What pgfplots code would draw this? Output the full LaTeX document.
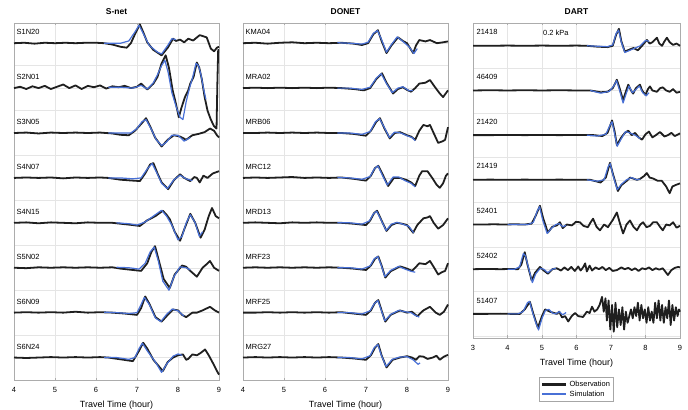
\documentclass[border=0pt]{standalone}
\usepackage{fontspec}
\setmainfont{Liberation Sans}
\usepackage{pgfplots}
\pgfplotsset{compat=1.18}
\definecolor{simblue}{RGB}{72,112,214}
\tikzset{lab/.style={font=\fontsize{7.5}{8}\selectfont, anchor=west, inner sep=0pt}}
\pgfplotsset{
  base/.style={y filter/.expression={y+#1}},
  obs/.style={black!88, line width=1.8bp, line join=round, forget plot},
  sim/.style={simblue, line width=1.2bp, line join=round, forget plot},
  panel/.style={scale only axis, xtick={3,...,9},
    yticklabels={}, grid=major, grid style={gray!20, line width=0.4bp},
    axis line style={gray!65}, tick style={gray!65}, ytick style={draw=none},
    major tick length=2.5bp, tick align=inside,
    tick label style={font=\fontsize{7.5}{9}\selectfont},
    xticklabel style={yshift=-4bp},
    /pgf/number format/assume math mode=true,
    xlabel={Travel Time (hour)},
    xlabel style={font=\fontsize{9}{11}\selectfont, yshift=-1bp},
    title style={font=\bfseries\fontsize{8.5}{10}\selectfont, yshift=-1bp},
    clip=false}
}
\begin{document}
\begin{tikzpicture}
\useasboundingbox (0,0) rectangle (688bp,410bp);
% ---------------- S-net ----------------
\begin{axis}[panel, at={(14bp,30bp)}, anchor=south west, width=205bp, height=357bp,
  xmin=4, xmax=9, ymin=0.5, ymax=8.45, ytick={0.5,1,...,8.5}, title={S-net}]
% S1N20
\addplot[obs, base=8] coordinates {(4,0) (4.25,0.01) (4.5,-0.01) (4.75,0.01) (5,0) (5.25,0.01) (5.5,0) (5.75,0.01) (6,0.01) (6.2,0) (6.4,-0.03) (6.6,-0.08) (6.75,-0.1) (6.85,0) (6.95,0.2) (7.07,0.42) (7.15,0.25) (7.25,0.02) (7.4,-0.15) (7.6,-0.27) (7.75,-0.1) (7.88,0.1) (7.95,0.05) (8.05,0.08) (8.15,0.02) (8.25,0.1) (8.37,0.06) (8.53,0.18) (8.7,0.13) (8.8,-0.12) (8.88,-0.18) (8.95,-0.1) (9,-0.08)};
\addplot[sim, base=8] coordinates {(6.2,0) (6.4,0) (6.6,0.0) (6.8,0.05) (6.95,0.25) (7.05,0.4) (7.15,0.22) (7.3,-0.05) (7.5,-0.2) (7.6,-0.24) (7.75,-0.05) (7.85,0.1) (7.95,0.08)};
% S2N01
\addplot[obs, base=7] coordinates {(4,0) (4.15,0.03) (4.3,-0.02) (4.45,0.04) (4.6,0) (4.75,0.05) (4.9,-0.02) (5.05,0.03) (5.2,0.08) (5.35,0) (5.5,0.06) (5.65,-0.02) (5.8,0.05) (5.95,0.02) (6.1,0.06) (6.25,-0.01) (6.4,0.04) (6.55,0.02) (6.7,0.05) (6.85,0.0) (7.0,0.03) (7.1,0.1) (7.25,-0.03) (7.4,0.1) (7.5,0.25) (7.6,0.55) (7.7,0.73) (7.78,0.45) (7.87,-0.05) (7.95,-0.35) (8.02,-0.65) (8.08,-0.45) (8.17,-0.2) (8.25,-0.05) (8.3,0.1) (8.38,0.25) (8.46,0.57) (8.52,0.45) (8.58,0.2) (8.65,-0.2) (8.72,-0.5) (8.8,-0.7) (8.88,-0.85) (8.94,-0.9) (8.96,0.1) (8.98,0.85) (9,0.85)};
\addplot[sim, base=7] coordinates {(6.3,0.02) (6.6,0.02) (6.9,0.0) (7.1,0.06) (7.25,-0.02) (7.4,0.12) (7.5,0.3) (7.6,0.5) (7.68,0.62) (7.76,0.35) (7.85,-0.1) (7.95,-0.4) (8.05,-0.65) (8.12,-0.7) (8.2,-0.3) (8.28,0.0) (8.36,0.25) (8.44,0.55) (8.5,0.5) (8.56,0.3) (8.62,0.0) (8.68,-0.25)};
% S3N05
\addplot[obs, base=6] coordinates {(4,0) (4.3,0.01) (4.6,-0.01) (4.9,0.01) (5.2,0) (5.5,0.01) (5.8,0) (6.1,0.01) (6.4,-0.01) (6.6,-0.04) (6.8,-0.05) (6.95,0.05) (7.1,0.2) (7.22,0.33) (7.32,0.15) (7.44,-0.1) (7.6,-0.3) (7.75,-0.15) (7.9,-0.05) (8.05,-0.08) (8.2,-0.15) (8.35,-0.05) (8.5,-0.02) (8.65,0.02) (8.78,0.1) (8.88,0.05) (8.95,-0.05) (9,-0.1)};
\addplot[sim, base=6] coordinates {(6.3,0) (6.6,0) (6.85,0.0) (7.0,0.1) (7.12,0.25) (7.22,0.3) (7.35,0.08) (7.47,-0.15) (7.6,-0.28) (7.72,-0.2) (7.85,-0.05) (8.0,-0.05) (8.15,-0.18) (8.3,-0.1)};
% S4N07
\addplot[obs, base=5] coordinates {(4,0) (4.3,0.01) (4.6,0) (4.9,0.01) (5.2,-0.01) (5.5,0.01) (5.8,0) (6.1,0.01) (6.3,0) (6.6,-0.04) (6.9,-0.06) (7.07,-0.07) (7.2,0.1) (7.32,0.3) (7.4,0.33) (7.5,0.1) (7.6,-0.1) (7.76,-0.25) (7.9,-0.05) (8.05,0.08) (8.15,0.0) (8.3,-0.07) (8.4,0.02) (8.46,0) (8.53,-0.1) (8.62,0.05) (8.72,0.0) (8.85,0.1) (9,0.15)};
\addplot[sim, base=5] coordinates {(6.3,0) (6.6,0) (6.9,-0.02) (7.1,0.0) (7.25,0.2) (7.37,0.32) (7.48,0.12) (7.6,-0.12) (7.74,-0.24) (7.9,-0.04) (8.05,0.06) (8.2,-0.02) (8.35,-0.06)};
% S4N15
\addplot[obs, base=4] coordinates {(4,0) (4.3,0.01) (4.6,-0.01) (4.9,0.01) (5.2,0) (5.5,-0.01) (5.8,0.01) (6.1,0) (6.4,0) (6.6,-0.02) (6.9,-0.05) (7.07,-0.07) (7.24,0.05) (7.45,0.15) (7.63,0.27) (7.72,0.18) (7.8,0.08) (7.92,-0.2) (8.05,-0.4) (8.15,-0.15) (8.3,0.2) (8.42,0.0) (8.55,-0.33) (8.65,-0.15) (8.75,0.15) (8.83,0.33) (8.92,0.15) (9,0.1)};
\addplot[sim, base=4] coordinates {(6.5,0) (6.8,-0.02) (7.0,-0.05) (7.2,0.02) (7.4,0.15) (7.6,0.28) (7.72,0.15) (7.85,-0.05) (8.0,-0.38) (8.1,-0.3) (8.2,0.0) (8.3,0.18) (8.42,0.0) (8.52,-0.3) (8.6,-0.2)};
% S5N02
\addplot[obs, base=3] coordinates {(4,0) (4.3,-0.01) (4.6,0.01) (4.9,0) (5.2,0.01) (5.5,0) (5.8,0.01) (6.1,0) (6.4,0.01) (6.6,-0.02) (6.9,-0.05) (7.1,-0.07) (7.25,0.1) (7.35,0.35) (7.44,0.48) (7.55,0.1) (7.65,-0.25) (7.8,-0.45) (7.92,-0.15) (8.1,0.05) (8.2,0.02) (8.3,-0.07) (8.46,-0.2) (8.6,0.0) (8.7,0.08) (8.78,0.15) (8.88,0.0) (9,-0.07)};
\addplot[sim, base=3] coordinates {(6.5,0.01) (6.8,0) (7.05,-0.03) (7.2,0.1) (7.32,0.35) (7.42,0.46) (7.52,0.15) (7.63,-0.3) (7.78,-0.5) (7.9,-0.2) (8.05,0.02) (8.2,0.0) (8.3,-0.05)};
% S6N09
\addplot[obs, base=2] coordinates {(4,0) (4.3,0.01) (4.6,0) (4.9,0.01) (5.2,0) (5.5,0.02) (5.8,0) (6.1,0.01) (6.4,0) (6.7,-0.02) (7.0,-0.05) (7.1,0.1) (7.2,0.36) (7.3,0.2) (7.45,-0.1) (7.6,-0.2) (7.75,-0.05) (7.88,0.07) (8.0,0.05) (8.1,-0.05) (8.2,-0.1) (8.35,0.0) (8.46,0.0) (8.6,0.05) (8.78,0.13) (8.9,0.05) (9,0)};
\addplot[sim, base=2] coordinates {(6.2,0.01) (6.5,0) (6.8,-0.02) (7.0,0.0) (7.1,0.18) (7.18,0.34) (7.3,0.18) (7.45,-0.12) (7.58,-0.2) (7.72,-0.04) (7.86,0.08) (8.0,0.04) (8.15,-0.08)};
% S6N24
\addplot[obs, base=1] coordinates {(4,0) (4.3,-0.01) (4.6,0) (4.9,0.01) (5.2,0) (5.5,0.01) (5.8,0) (6.1,0.01) (6.3,0) (6.6,-0.04) (6.9,-0.08) (7.05,0.15) (7.15,0.33) (7.25,0.2) (7.4,-0.05) (7.63,-0.3) (7.75,-0.1) (7.88,0) (8.0,0.05) (8.12,0.07) (8.2,-0.05) (8.25,-0.03) (8.35,0.07) (8.46,0.05) (8.55,0.1) (8.66,0.18) (8.75,0.05) (8.85,-0.12) (8.95,-0.3) (9,-0.38)};
\addplot[sim, base=1] coordinates {(6.2,0) (6.5,0) (6.8,-0.04) (6.95,0.0) (7.05,0.2) (7.13,0.32) (7.25,0.15) (7.45,-0.1) (7.6,-0.33) (7.72,-0.15) (7.88,0.03) (8.0,0.08) (8.1,0.05)};
\node[lab] at (axis cs:4.06,8.24) {S1N20};
\node[lab] at (axis cs:4.06,7.24) {S2N01};
\node[lab] at (axis cs:4.06,6.24) {S3N05};
\node[lab] at (axis cs:4.06,5.24) {S4N07};
\node[lab] at (axis cs:4.06,4.24) {S4N15};
\node[lab] at (axis cs:4.06,3.24) {S5N02};
\node[lab] at (axis cs:4.06,2.24) {S6N09};
\node[lab] at (axis cs:4.06,1.24) {S6N24};
\end{axis}
% ---------------- DONET ----------------
\begin{axis}[panel, at={(243bp,30bp)}, anchor=south west, width=205bp, height=357bp,
  xmin=4, xmax=9, ymin=0.5, ymax=8.45, ytick={0.5,1,...,8.5}, title={DONET}]
% KMA04
\addplot[obs, base=8] coordinates {(4,0) (4.3,0.01) (4.6,-0.01) (4.9,0.01) (5.2,0.02) (5.5,0) (5.8,0.01) (6.1,0) (6.4,0.01) (6.7,-0.01) (6.9,-0.04) (7.05,0.0) (7.18,0.2) (7.29,0.29) (7.38,0.05) (7.5,-0.22) (7.62,-0.05) (7.78,0.13) (7.9,0.05) (8.0,0.0) (8.15,-0.22) (8.22,-0.05) (8.3,0.07) (8.45,0.04) (8.56,0.07) (8.73,0.0) (8.88,0.02) (9,0.04)};
\addplot[sim, base=8] coordinates {(6.3,0.01) (6.6,0) (6.9,-0.02) (7.05,0.02) (7.18,0.22) (7.28,0.28) (7.38,0.08) (7.5,-0.2) (7.62,-0.03) (7.76,0.14) (7.9,0.04) (8.05,-0.08) (8.17,-0.23) (8.25,-0.12)};
% MRA02
\addplot[obs, base=7] coordinates {(4,0) (4.3,0.01) (4.6,0) (4.9,0.01) (5.2,0.0) (5.5,0.01) (5.8,0) (6.1,0.01) (6.4,0) (6.7,-0.02) (6.95,-0.05) (7.1,0.0) (7.25,0.2) (7.39,0.33) (7.5,0.12) (7.66,-0.12) (7.78,-0.02) (7.9,0.02) (8.0,-0.04) (8.1,-0.08) (8.2,0.0) (8.3,0.1) (8.45,0.12) (8.56,0.18) (8.7,0.0) (8.8,-0.12) (8.88,-0.2) (9,-0.05)};
\addplot[sim, base=7] coordinates {(6.3,0) (6.6,0) (6.9,-0.03) (7.1,0.02) (7.25,0.22) (7.37,0.32) (7.5,0.1) (7.64,-0.1) (7.78,0.0) (7.9,0.03) (8.05,-0.06) (8.15,-0.05)};
% MRB06
\addplot[obs, base=6] coordinates {(4,0) (4.3,0) (4.6,0.01) (4.9,0) (5.2,0.01) (5.5,0) (5.8,0.01) (6.1,0) (6.4,0.0) (6.7,-0.02) (7.0,-0.06) (7.12,0.05) (7.25,0.25) (7.34,0.33) (7.45,0.1) (7.58,-0.12) (7.7,0.0) (7.83,0.02) (8.0,-0.05) (8.1,-0.08) (8.2,-0.15) (8.3,0.05) (8.4,0.18) (8.5,0.15) (8.56,0.18) (8.65,0.0) (8.76,-0.22) (8.88,-0.18) (8.93,-0.15) (9,0.13)};
\addplot[sim, base=6] coordinates {(6.3,0) (6.6,0) (6.9,-0.03) (7.1,0.03) (7.23,0.25) (7.33,0.32) (7.45,0.12) (7.57,-0.1) (7.7,0.02) (7.85,0.0) (8.0,-0.06) (8.12,-0.1) (8.2,-0.17)};
% MRC12
\addplot[obs, base=5] coordinates {(4,0) (4.3,0.01) (4.6,0) (4.9,0.01) (5.2,0.02) (5.5,0) (5.8,0.01) (6.1,0) (6.4,0.01) (6.7,-0.02) (7.0,-0.06) (7.12,0.05) (7.22,0.22) (7.3,0.27) (7.42,0.05) (7.54,-0.18) (7.68,0.0) (7.83,0.0) (8.0,-0.05) (8.1,-0.1) (8.2,-0.18) (8.3,0.05) (8.37,0.15) (8.5,0.15) (8.63,-0.02) (8.72,-0.15) (8.8,-0.22) (8.88,-0.12) (8.95,0.05) (9,0.1)};
\addplot[sim, base=5] coordinates {(6.3,0.01) (6.6,0) (6.9,-0.03) (7.1,0.03) (7.2,0.2) (7.29,0.27) (7.4,0.06) (7.52,-0.16) (7.66,0.02) (7.8,0.02) (7.95,-0.06) (8.1,-0.12) (8.2,-0.2)};
% MRD13
\addplot[obs, base=4] coordinates {(4,0) (4.3,0.01) (4.6,0) (4.9,-0.01) (5.2,0.01) (5.5,0) (5.8,0.01) (6.1,0) (6.4,0.0) (6.7,-0.02) (7.0,-0.05) (7.1,0.05) (7.2,0.22) (7.27,0.27) (7.38,0.05) (7.5,-0.18) (7.62,-0.05) (7.75,0.0) (7.88,-0.02) (8.0,-0.05) (8.15,-0.22) (8.25,-0.05) (8.4,0.1) (8.5,0.12) (8.56,0.15) (8.65,0.0) (8.76,-0.13) (8.88,-0.05) (9,0.1)};
\addplot[sim, base=4] coordinates {(6.3,0) (6.6,0) (6.9,-0.03) (7.08,0.04) (7.18,0.2) (7.26,0.26) (7.37,0.06) (7.49,-0.17) (7.62,-0.03) (7.76,0.01) (7.9,-0.03) (8.05,-0.08) (8.16,-0.22)};
% MRF23
\addplot[obs, base=3] coordinates {(4,0) (4.3,0.01) (4.6,0) (4.9,0.01) (5.2,0) (5.5,0.01) (5.8,0) (6.1,0.01) (6.4,0) (6.7,-0.02) (7.0,-0.05) (7.12,0.05) (7.22,0.2) (7.3,0.25) (7.38,0.05) (7.47,-0.22) (7.6,-0.08) (7.83,0.03) (8.0,-0.02) (8.12,-0.07) (8.2,0.0) (8.3,0.1) (8.45,0.08) (8.56,0.15) (8.65,0.02) (8.76,-0.15) (8.85,-0.1) (8.93,-0.07) (9,0.1)};
\addplot[sim, base=3] coordinates {(6.3,0) (6.6,0) (6.9,-0.03) (7.1,0.04) (7.2,0.2) (7.29,0.25) (7.37,0.06) (7.46,-0.2) (7.6,-0.06) (7.8,0.03) (7.95,-0.03) (8.1,-0.08) (8.2,-0.1)};
% MRF25
\addplot[obs, base=2] coordinates {(4,0) (4.3,0) (4.6,0.01) (4.9,0) (5.2,0.01) (5.5,0) (5.8,0.01) (6.1,0) (6.4,0.01) (6.7,-0.02) (7.0,-0.05) (7.12,0.05) (7.22,0.22) (7.3,0.28) (7.38,0.05) (7.47,-0.2) (7.6,-0.05) (7.83,0.05) (8.0,0.0) (8.12,0.02) (8.25,-0.08) (8.4,0.05) (8.56,0.13) (8.7,0.0) (8.8,-0.05) (8.9,0.02) (9,0.18)};
\addplot[sim, base=2] coordinates {(6.3,0) (6.6,0) (6.9,-0.03) (7.1,0.04) (7.2,0.2) (7.29,0.27) (7.37,0.06) (7.46,-0.18) (7.6,-0.04) (7.8,0.05) (7.95,0.02) (8.1,0.0) (8.2,-0.06) (8.3,-0.1)};
% MRG27
\addplot[obs, base=1] coordinates {(4,0) (4.3,0.01) (4.6,0) (4.9,0.01) (5.2,0) (5.5,0.01) (5.8,0) (6.1,0.01) (6.4,0) (6.7,-0.02) (7.0,-0.05) (7.12,0.05) (7.22,0.22) (7.3,0.3) (7.38,0.05) (7.5,-0.22) (7.65,-0.05) (7.83,0.0) (8.0,0.03) (8.12,0.0) (8.22,-0.05) (8.3,0.03) (8.4,0.02) (8.5,-0.03) (8.63,0.0) (8.72,0.04) (8.8,-0.05) (8.9,0.02) (9,0.06)};
\addplot[sim, base=1] coordinates {(6.3,0) (6.6,0) (6.9,-0.03) (7.1,0.04) (7.2,0.22) (7.29,0.29) (7.37,0.06) (7.49,-0.2) (7.64,-0.04) (7.82,0.01) (8.0,0.02) (8.15,-0.05) (8.27,-0.15) (8.32,-0.12)};
\node[lab] at (axis cs:4.06,8.24) {KMA04};
\node[lab] at (axis cs:4.06,7.24) {MRA02};
\node[lab] at (axis cs:4.06,6.24) {MRB06};
\node[lab] at (axis cs:4.06,5.24) {MRC12};
\node[lab] at (axis cs:4.06,4.24) {MRD13};
\node[lab] at (axis cs:4.06,3.24) {MRF23};
\node[lab] at (axis cs:4.06,2.24) {MRF25};
\node[lab] at (axis cs:4.06,1.24) {MRG27};
\end{axis}
% ---------------- DART ----------------
\begin{axis}[panel, at={(473bp,72bp)}, anchor=south west, width=207bp, height=315bp,
  xmin=3, xmax=9, ymin=0.46, ymax=7.51, ytick={0.5,1,...,7.5}, title={DART},
  legend style={at={(0.5,-0.124)}, anchor=north, draw=gray!70, line width=0.4bp,
    font=\fontsize{7.5}{9}\selectfont, inner sep=1.5bp, row sep=-1bp, cells={anchor=west}},
  legend cell align=left,
  legend image code/.code={\draw[#1] (0bp,0bp) -- (24bp,0bp);}]
\addlegendimage{black!88, line width=2.6bp}
\addlegendentry{Observation}
\addlegendimage{simblue, line width=1.2bp}
\addlegendentry{Simulation}
% 21418
\addplot[obs, base=7] coordinates {(3,0) (3.5,0) (4,0.005) (4.5,0) (5,0.005) (5.5,0) (6,0.005) (6.3,0) (6.6,-0.02) (6.9,-0.03) (7.05,0.0) (7.15,0.25) (7.23,0.38) (7.3,0.1) (7.4,-0.13) (7.55,-0.08) (7.65,-0.05) (7.78,-0.1) (7.9,0.0) (8.04,0.13) (8.12,0.05) (8.2,0.08) (8.33,0.18) (8.4,0.05) (8.48,0.0) (8.55,0.1) (8.62,0.18) (8.7,0.08) (8.8,0.02) (8.9,0.05) (9,0.0)};
\addplot[sim, base=7] coordinates {(6.3,0) (6.6,-0.01) (6.9,-0.02) (7.05,0.02) (7.15,0.28) (7.22,0.35) (7.3,0.08) (7.4,-0.15) (7.55,-0.1) (7.7,-0.05) (7.85,0.0) (8.0,0.12) (8.1,0.1)};
% 46409
\addplot[obs, base=6] coordinates {(3,0) (3.5,0.005) (4,0) (4.5,0.005) (5,0) (5.5,0.005) (6,0) (6.4,0) (6.7,-0.04) (6.9,-0.03) (7.05,0.05) (7.17,0.24) (7.25,0.05) (7.35,-0.22) (7.42,-0.05) (7.5,0.13) (7.58,0.0) (7.64,-0.07) (7.72,0.05) (7.84,0.13) (7.9,0.0) (8.0,-0.1) (8.07,0.03) (8.13,0.09) (8.2,0.0) (8.33,-0.03) (8.42,0.05) (8.5,0.07) (8.6,0.0) (8.7,-0.03) (8.8,0.03) (8.9,-0.05) (9,-0.03)};
\addplot[sim, base=6] coordinates {(6.4,0) (6.7,-0.06) (6.95,-0.02) (7.08,0.1) (7.16,0.22) (7.25,0.0) (7.35,-0.28) (7.45,-0.05) (7.52,0.1) (7.62,-0.05) (7.72,0.02) (7.82,0.1) (7.92,-0.05) (8.02,-0.12) (8.1,-0.05)};
% 21420
\addplot[obs, base=5] coordinates {(3,0) (3.5,0) (4,0.005) (4.5,0) (5,0.005) (5.5,0) (6,0.005) (6.5,0) (6.75,-0.02) (6.9,0.05) (7.03,0.33) (7.1,0.1) (7.17,-0.22) (7.3,-0.05) (7.4,0.05) (7.5,0.1) (7.6,0.0) (7.7,0.05) (7.8,-0.05) (7.9,-0.1) (8.0,0.02) (8.1,0.08) (8.2,-0.05) (8.3,0.0) (8.42,0.07) (8.55,-0.03) (8.65,0.0) (8.75,0.05) (8.85,-0.02) (9,0.04)};
\addplot[sim, base=5] coordinates {(6.3,0) (6.6,-0.02) (6.85,0.02) (6.97,0.22) (7.03,0.3) (7.1,0.05) (7.18,-0.25) (7.3,-0.08) (7.42,0.08) (7.55,0.05) (7.7,0.0) (7.85,-0.08)};
% 21419
\addplot[obs, base=4] coordinates {(3,0) (3.5,0.005) (4,0) (4.5,0.005) (5,0) (5.5,0.005) (6,0) (6.4,0) (6.7,-0.06) (6.85,0.05) (6.97,0.38) (7.05,0.15) (7.2,-0.25) (7.3,-0.12) (7.46,-0.02) (7.55,0.05) (7.64,0.03) (7.75,0.0) (7.84,0.02) (7.95,0.08) (8.04,0.15) (8.12,0.05) (8.22,0.03) (8.35,-0.02) (8.47,-0.02) (8.6,-0.15) (8.7,-0.3) (8.78,-0.15) (8.86,-0.12) (9,-0.08)};
\addplot[sim, base=4] coordinates {(6.3,0) (6.6,-0.03) (6.8,0.0) (6.92,0.3) (6.98,0.36) (7.06,0.1) (7.18,-0.22) (7.3,-0.1) (7.45,0.0) (7.6,0.05) (7.75,0.0) (7.85,0.02)};
% 52401
\addplot[obs, base=3] coordinates {(3,0) (3.3,0) (3.6,0.005) (3.9,0) (4.2,0.005) (4.5,0) (4.7,0.02) (4.82,0.2) (4.94,0.42) (5.03,0.15) (5.17,-0.18) (5.3,-0.05) (5.43,-0.02) (5.52,0.05) (5.6,-0.08) (5.72,0.0) (5.87,-0.02) (5.98,0.06) (6.1,0.05) (6.2,-0.03) (6.33,-0.06) (6.41,0.05) (6.48,0.13) (6.58,-0.05) (6.68,-0.13) (6.8,0.0) (6.91,-0.06) (7.05,0.1) (7.17,0.27) (7.25,0.05) (7.35,-0.2) (7.45,0.0) (7.55,0.09) (7.65,-0.05) (7.75,-0.13) (7.85,0.0) (7.93,0.05) (8.03,-0.06) (8.13,-0.03) (8.22,0.05) (8.33,0.05) (8.42,-0.05) (8.5,-0.13) (8.6,0.0) (8.7,-0.02) (8.8,0.05) (8.9,-0.07) (9,-0.03)};
\addplot[sim, base=3] coordinates {(4.0,0) (4.3,0) (4.6,0.0) (4.75,0.05) (4.86,0.3) (4.93,0.4) (5.02,0.1) (5.15,-0.2) (5.28,-0.08) (5.4,0.0) (5.5,0.02) (5.6,-0.05) (5.7,-0.02)};
% 52402
\addplot[obs, base=2] coordinates {(3,0) (3.4,0.005) (3.8,0) (4.1,0.005) (4.3,0.0) (4.4,0.1) (4.5,0.38) (4.58,0.1) (4.7,-0.25) (4.8,-0.08) (4.94,0.05) (5.05,-0.03) (5.17,-0.1) (5.3,0.0) (5.43,0.02) (5.55,-0.03) (5.65,0.04) (5.75,-0.02) (5.85,0.05) (5.95,-0.04) (6.05,0.06) (6.12,-0.03) (6.2,0.05) (6.25,0.13) (6.3,-0.05) (6.38,0.08) (6.45,-0.03) (6.55,0.04) (6.65,0.0) (6.75,0.05) (6.85,-0.02) (6.95,0.03) (7.05,-0.04) (7.17,-0.02) (7.3,0.04) (7.4,0.0) (7.5,0.03) (7.6,-0.02) (7.7,0.02) (7.8,-0.04) (7.9,0.02) (8.0,0.0) (8.1,0.04) (8.2,-0.02) (8.3,0.02) (8.4,-0.01) (8.5,0.02) (8.6,-0.08) (8.65,-0.13) (8.75,-0.02) (8.85,0.03) (8.95,0.05) (9,0.04)};
\addplot[sim, base=2] coordinates {(4.0,0) (4.2,0.0) (4.35,0.05) (4.46,0.35) (4.52,0.3) (4.62,0.0) (4.72,-0.3) (4.82,-0.1) (4.95,0.02) (5.05,0.0) (5.17,-0.08) (5.3,0.0) (5.4,0.02)};
% 51407
\addplot[obs, base=1] coordinates {(3,0) (3.4,0) (3.8,0.005) (4.1,0) (4.36,0.0) (4.5,0.1) (4.65,0.27) (4.75,0.0) (4.88,-0.31) (5.0,-0.05) (5.09,0.1) (5.23,0.05) (5.35,0.02) (5.43,0.0) (5.5,0.05) (5.58,-0.08) (5.67,-0.05) (5.76,-0.17) (5.86,-0.05) (5.96,0.02) (6.05,-0.05) (6.19,-0.07) (6.3,0.05) (6.38,0.02) (6.45,0.16) (6.52,0.05) (6.6,0.1) (6.67,0.2) (6.74,0.38) (6.79,0.05) (6.84,0.35) (6.88,-0.15) (6.93,0.3) (6.98,-0.35) (7.03,0.2) (7.08,-0.4) (7.13,0.25) (7.18,-0.3) (7.23,0.1) (7.28,-0.25) (7.33,0.15) (7.38,-0.35) (7.43,0.05) (7.48,-0.2) (7.53,-0.05) (7.58,0.1) (7.63,-0.1) (7.68,0.15) (7.73,-0.05) (7.78,0.25) (7.83,-0.15) (7.88,0.2) (7.93,-0.1) (7.98,0.1) (8.03,-0.2) (8.08,0.15) (8.13,-0.15) (8.18,0.05) (8.23,-0.2) (8.28,0.25) (8.33,-0.1) (8.38,0.3) (8.43,-0.15) (8.48,0.2) (8.53,-0.2) (8.58,0.15) (8.63,-0.1) (8.68,0.3) (8.73,-0.25) (8.78,0.2) (8.83,-0.15) (8.88,0.15) (8.93,-0.05) (8.97,0.1) (9,0.05)};
\addplot[sim, base=1] coordinates {(4.0,0) (4.3,0) (4.45,0.05) (4.58,0.25) (4.64,0.28) (4.72,0.05) (4.82,-0.2) (4.9,-0.36) (5.0,-0.1) (5.1,0.08) (5.2,0.1) (5.3,0.02) (5.4,0.0) (5.5,0.05) (5.6,-0.02) (5.7,0.03)};
\node[lab] at (axis cs:3.1,7.3) {21418};
\node[lab] at (axis cs:5.03,7.3) {0.2 kPa};
\node[lab] at (axis cs:3.1,6.3) {46409};
\node[lab] at (axis cs:3.1,5.3) {21420};
\node[lab] at (axis cs:3.1,4.3) {21419};
\node[lab] at (axis cs:3.1,3.3) {52401};
\node[lab] at (axis cs:3.1,2.3) {52402};
\node[lab] at (axis cs:3.1,1.3) {51407};
\end{axis}
\end{tikzpicture}
\end{document}
